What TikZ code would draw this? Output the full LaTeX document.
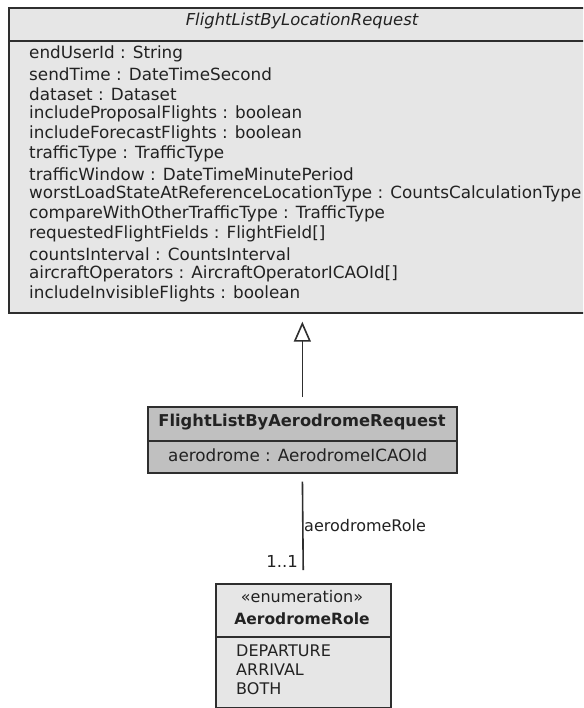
\documentclass[tikz,border=0pt]{standalone}
\usepackage{fontspec}
\setmainfont{DejaVu Sans}
\usetikzlibrary{arrows.meta}
\definecolor{umlline}{HTML}{2E2E2E}
\definecolor{lightfill}{HTML}{E6E6E6}
\definecolor{darkfill}{HTML}{C0C0C0}
\definecolor{umltext}{HTML}{222222}
\tikzset{
  umlbox/.style={draw=umlline, line width=1.7pt, anchor=north west, inner sep=0pt},
  sep/.style={draw=umlline, line width=1.7pt},
  txt/.style={inner sep=0pt, text=umltext},
  attr/.style={txt, anchor=west, font=\fontsize{16.8}{18}\selectfont},
  literal/.style={txt, anchor=west, font=\fontsize{16}{18}\selectfont},
  conn/.style={draw=umlline, line width=1.6pt},
}
\begin{document}
\begin{tikzpicture}[x=1pt,y=-1pt]
\useasboundingbox (0,0) rectangle (583,708);
\clip (0,0) rectangle (583,708);
\fill[white] (0,0) rectangle (583,708);

% abstract base class
\node[umlbox, fill=lightfill, minimum width=590pt, minimum height=305pt] (base) at (8,7) {};
\draw[sep] (8,41) -- (598,41);
\node[txt, anchor=center, font=\fontsize{16.4}{18}\selectfont\itshape] (basetitle) at (302,21) {FlightListByLocationRequest};
\foreach \t [count=\i from 0] in {
  endUserId : String,
  sendTime : DateTimeSecond,
  dataset : Dataset,
  includeProposalFlights : boolean,
  includeForecastFlights : boolean,
  trafficType : TrafficType,
  trafficWindow : DateTimeMinutePeriod,
  worstLoadStateAtReferenceLocationType : CountsCalculationType,
  compareWithOtherTrafficType : TrafficType,
  requestedFlightFields : FlightField[],
  countsInterval : CountsInterval,
  aircraftOperators : AircraftOperatorICAOId[],
  includeInvisibleFlights : boolean}
  \node[attr] (battr\i) at (29,{54+20*\i}) {\t};

% aerodrome request subclass
\node[umlbox, fill=darkfill, minimum width=309pt, minimum height=66pt] (mid) at (147,406) {};
\draw[sep] (147,441) -- (456,441);
\node[txt, anchor=center, font=\fontsize{16.3}{18}\selectfont\bfseries] (midtitle) at (302,422) {FlightListByAerodromeRequest};
\node[txt, anchor=west, font=\fontsize{16.8}{18}\selectfont] (midattr) at (168,455) {aerodrome : AerodromeICAOId};

% enumeration
\node[umlbox, fill=lightfill, minimum width=175pt, minimum height=124pt] (enum) at (215,583) {};
\draw[sep] (215,637) -- (390,637);
\node[txt, anchor=center, font=\fontsize{16}{18}\selectfont] (enumst) at (302,597) {«enumeration»};
\node[txt, anchor=center, font=\fontsize{15.5}{18}\selectfont\bfseries] (enumtitle) at (302,619) {AerodromeRole};
\node[literal] (lit0) at (236,651) {DEPARTURE};
\node[literal] (lit1) at (236,670) {ARRIVAL};
\node[literal] (lit2) at (236,689) {BOTH};

% generalization
\draw[conn, -{Triangle[open, width=17pt, length=20pt, line width=1.6pt]}, shorten <=9pt, shorten >=8pt]
  (mid.north) -- (mid.north |- base.south);

% association
\draw[conn, shorten <=8pt, shorten >=13pt] (mid.south) -- (enum.north);
\node[txt, anchor=west, font=\fontsize{16}{18}\selectfont] (rolelbl) at (304,526) {aerodromeRole};
\node[txt, anchor=east, font=\fontsize{16.5}{18}\selectfont] (multlbl) at (298,561) {1..1};
\end{tikzpicture}
\end{document}
